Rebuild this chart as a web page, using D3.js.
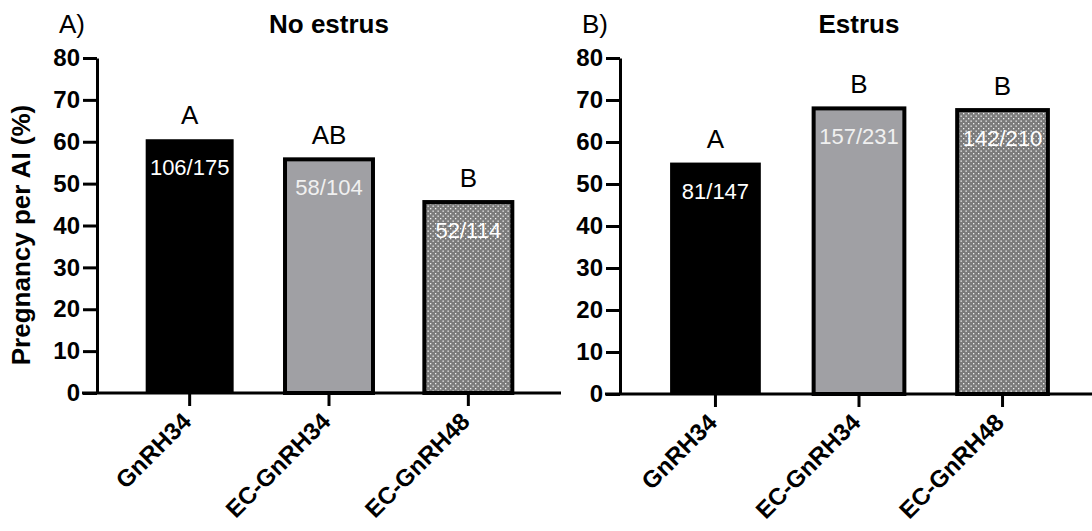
<!DOCTYPE html>
<html>
<head>
<meta charset="utf-8">
<script src="https://cdn.jsdelivr.net/npm/d3@7"></script>
<style>
  body { margin: 0; background: #fff; }
  text { font-family: Arial, "Liberation Sans", sans-serif; }
</style>
</head>
<body>
<script>
// data
const categories = ["GnRH34", "EC-GnRH34", "EC-GnRH48"];
const noEstrusValues = [60.6, 55.8, 45.6];
const noEstrusCounts = ["106/175", "58/104", "52/114"];
const noEstrusLetters = ["A", "AB", "B"];
const estrusValues = [55.1, 68.0, 67.6];
const estrusCounts = ["81/147", "157/231", "142/210"];
const estrusLetters = ["A", "B", "B"];
const yTicks = [0, 10, 20, 30, 40, 50, 60, 70, 80];

const svg = d3.select("body").append("svg")
  .attr("width", 1092)
  .attr("height", 531);

// dotted fill for the third bar
const defs = svg.append("defs");
const pat = defs.append("pattern")
  .attr("id", "dots")
  .attr("patternUnits", "userSpaceOnUse")
  .attr("width", 5)
  .attr("height", 5);
pat.append("rect").attr("width", 5).attr("height", 5).attr("fill", "#7b7b7b");
pat.append("rect").attr("x", 0.5).attr("y", 0.5).attr("width", 1.3).attr("height", 1.3).attr("fill", "#f2f2f2");
pat.append("rect").attr("x", 3).attr("y", 3).attr("width", 1.3).attr("height", 1.3).attr("fill", "#f2f2f2");

const fills = ["#000", "#a0a0a4", "url(#dots)"];
const countColors = ["#fff", "#f0f0f0", "#fff"];

function panel(opt) {
  const g = svg.append("g").attr("transform", `translate(${opt.x},0)`);
  const y = d3.scaleLinear().domain([0, 80]).range([opt.y0, 58]);
  const x = d3.scaleBand().domain(categories).range([0, opt.w])
    .paddingInner(0.34).paddingOuter(0.335);

  // bars
  g.selectAll("rect.bar").data(opt.values).enter().append("rect")
    .attr("class", "bar")
    .attr("x", (d, i) => x(categories[i]) + 2)
    .attr("width", x.bandwidth() - 4)
    .attr("y", d => y(d))
    .attr("height", d => y(0) - y(d))
    .attr("fill", (d, i) => fills[i])
    .attr("stroke", "#000")
    .attr("stroke-width", (d, i) => i == 0 ? 0 : 4);

  // counts inside the bars
  g.selectAll("text.count").data(opt.values).enter().append("text")
    .attr("class", "count")
    .attr("x", (d, i) => x(categories[i]) + x.bandwidth() / 2)
    .attr("y", d => y(d) + 36)
    .attr("text-anchor", "middle")
    .attr("font-size", 22)
    .attr("fill", (d, i) => countColors[i])
    .text((d, i) => opt.counts[i]);

  // letters above the bars
  g.selectAll("text.letter").data(opt.values).enter().append("text")
    .attr("class", "letter")
    .attr("x", (d, i) => x(categories[i]) + x.bandwidth() / 2)
    .attr("y", d => y(d) - 15)
    .attr("text-anchor", "middle")
    .attr("font-size", 26)
    .attr("fill", "#000")
    .text((d, i) => opt.letters[i]);

  // y axis
  const yAxis = g.append("g")
    .call(d3.axisLeft(y).tickValues(yTicks).tickSize(14).tickPadding(3).tickSizeOuter(0));
  yAxis.select(".domain").attr("stroke-width", 3);
  yAxis.selectAll(".tick line").attr("stroke-width", 3);
  yAxis.selectAll(".tick text")
    .attr("font-size", 24).attr("font-weight", "bold")
    .attr("font-family", "Arial, 'Liberation Sans', sans-serif").attr("fill", "#000");

  // x axis
  const xAxis = g.append("g")
    .attr("transform", `translate(0,${opt.y0})`)
    .call(d3.axisBottom(x).tickSize(13).tickSizeOuter(0).tickFormat(""));
  xAxis.select(".domain").attr("stroke-width", 3).attr("d", `M-15,0H${opt.w}`);
  xAxis.selectAll(".tick line").attr("stroke-width", 3);
  xAxis.selectAll(".tick").append("text")
    .attr("transform", "translate(-3,24) rotate(-45)")
    .attr("text-anchor", "end")
    .attr("dy", "0.35em")
    .attr("font-size", 24)
    .attr("font-weight", "bold")
    .attr("font-family", "Arial, 'Liberation Sans', sans-serif")
    .attr("fill", "#000")
    .text(d => d);

  // titles
  g.append("text")
    .attr("x", opt.w / 2).attr("y", 33)
    .attr("text-anchor", "middle")
    .attr("font-size", 26).attr("font-weight", "bold")
    .text(opt.title);
  g.append("text")
    .attr("x", opt.labelX).attr("y", 33)
    .attr("font-size", 26)
    .text(opt.label);
  return g;
}

panel({ x: 97, w: 464, y0: 393, values: noEstrusValues, counts: noEstrusCounts,
  letters: noEstrusLetters, title: "No estrus", label: "A)", labelX: -38 });
panel({ x: 620, w: 478, y0: 394, values: estrusValues, counts: estrusCounts,
  letters: estrusLetters, title: "Estrus", label: "B)", labelX: -38 });

// y axis title
svg.append("text")
  .attr("transform", "translate(30,235) rotate(-90)")
  .attr("text-anchor", "middle")
  .attr("font-size", 26)
  .attr("font-weight", "bold")
  .text("Pregnancy per AI (%)");
</script>
</body>
</html>
